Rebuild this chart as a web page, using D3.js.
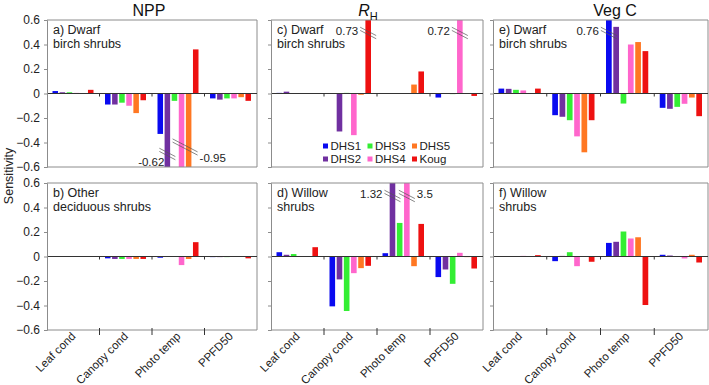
<!DOCTYPE html>
<html>
<head>
<meta charset="utf-8">
<script src="https://cdn.jsdelivr.net/npm/d3@7"></script>
<style>
  body { margin: 0; background: #fff; }
  svg { font-family: Arial, "Liberation Sans", sans-serif; }
</style>
</head>
<body>
<svg id="chart" width="709" height="385"></svg>
<script>
'use strict';

// categories and series
const categories = ['Leaf cond', 'Canopy cond', 'Photo temp', 'PPFD50'];
const seriesNames = ['DHS1', 'DHS2', 'DHS3', 'DHS4', 'DHS5', 'Koug'];
const seriesColors = ['#0a0af0', '#7030a0', '#33ee33', '#ff66cc', '#ff7722', '#ee1111'];
const yTicks = [-0.6, -0.4, -0.2, 0, 0.2, 0.4, 0.6];

// values per panel: one row per category, one value per series (DHS1..DHS5, Koug)
const nppDwarfBirch = [
  [0.02, 0.01, 0.01, 0.005, 0.0, 0.03],
  [-0.09, -0.09, -0.075, -0.1, -0.16, -0.055],
  [-0.33, -0.62, -0.06, -0.95, -0.95, 0.36],
  [-0.04, -0.05, -0.04, -0.04, -0.03, -0.06]
];
const rhDwarfBirch = [
  [0.005, 0.015, 0.0, 0.0, 0.003, 0.0],
  [0.0, -0.31, 0.005, -0.34, -0.01, 0.73],
  [0.0, 0.0, 0.0, 0.0, 0.073, 0.18],
  [-0.033, 0.0, -0.005, 0.72, 0.0, -0.02]
];
const vegcDwarfBirch = [
  [0.04, 0.038, 0.03, 0.025, 0.0, 0.04],
  [-0.177, -0.19, -0.218, -0.35, -0.48, -0.218],
  [0.76, 0.544, -0.082, 0.4, 0.42, 0.346],
  [-0.117, -0.125, -0.109, -0.084, -0.033, -0.185]
];
const nppOtherDeciduous = [
  [0.0, 0.0, 0.0, 0.0, 0.0, 0.0],
  [-0.015, -0.02, -0.02, -0.02, -0.02, -0.02],
  [-0.01, 0.0, 0.0, -0.07, -0.02, 0.117],
  [-0.005, -0.005, -0.005, 0.0, 0.0, -0.015]
];
const rhWillow = [
  [0.035, 0.014, 0.02, 0.0, 0.0, 0.076],
  [-0.407, -0.187, -0.445, -0.136, -0.095, -0.076],
  [0.027, 1.32, 0.274, 3.5, -0.079, 0.266],
  [-0.168, -0.106, -0.223, 0.03, -0.005, -0.098]
];
const vegcWillow = [
  [0.002, 0.0, 0.0, 0.005, 0.0, 0.011],
  [-0.038, 0.005, 0.035, -0.079, 0.0, -0.043],
  [0.111, 0.12, 0.204, 0.147, 0.157, -0.396],
  [0.014, 0.008, 0.0, -0.016, 0.014, -0.049]
];

const columnTitles = ['NPP', 'RH', 'Veg C'];
const panelLabels = [
  ['a) Dwarf', 'birch shrubs'], ['c) Dwarf', 'birch shrubs'], ['e) Dwarf', 'birch shrubs'],
  ['b) Other', 'deciduous shrubs'], ['d) Willow', 'shrubs'], ['f) Willow', 'shrubs']
];
const panelData = [nppDwarfBirch, rhDwarfBirch, vegcDwarfBirch, nppOtherDeciduous, rhWillow, vegcWillow];

// off-scale bars: panel index, category index, series indices, label, label side
const breaks = [
  { panel: 0, cat: 2, series: [1], label: '-0.62', side: 'left' },
  { panel: 0, cat: 2, series: [3, 4], label: '-0.95', side: 'right' },
  { panel: 1, cat: 1, series: [5], label: '0.73', side: 'left' },
  { panel: 1, cat: 3, series: [3], label: '0.72', side: 'left' },
  { panel: 2, cat: 2, series: [0], label: '0.76', side: 'left' },
  { panel: 4, cat: 2, series: [1], label: '1.32', side: 'left' },
  { panel: 4, cat: 2, series: [3], label: '3.5', side: 'right' }
];

// layout
const cols = [{ x0: 47, x1: 257 }, { x0: 271, x1: 483 }, { x0: 493, x1: 708 }];
const rows = [{ y0: 20, y1: 167 }, { y0: 183, y1: 330 }];
const frameColor = '#8c8c8c';
const fontSize = 11.5;

const svg = d3.select('#chart');

function drawPanel(idx) {
  const col = cols[idx % 3];
  const row = rows[Math.floor(idx / 3)];
  const data = panelData[idx];
  const g = svg.append('g');

  const x = d3.scaleBand().domain(categories).range([col.x0, col.x1]);
  const xs = d3.scaleBand().domain(seriesNames)
    .range([5.5, x.bandwidth() - 6]).paddingInner(0.22);
  const y = d3.scaleLinear().domain([-0.6, 0.6]).range([row.y1, row.y0]).clamp(true);

  // bars
  categories.forEach((c, ci) => {
    g.append('g')
      .selectAll('rect')
      .data(data[ci])
      .join('rect')
      .attr('x', (d, si) => x(c) + xs(seriesNames[si]))
      .attr('width', xs.bandwidth())
      .attr('y', d => y(Math.max(0, d)))
      .attr('height', d => Math.abs(y(d) - y(0)))
      .attr('fill', (d, si) => seriesColors[si]);
  });

  // frame (top, right, bottom)
  g.append('path')
    .attr('d', `M${col.x0},${row.y0}H${col.x1}V${row.y1}H${col.x0}`)
    .attr('fill', 'none')
    .attr('stroke', frameColor)
    .attr('stroke-width', 1);

  // zero line with category ticks
  g.append('line')
    .attr('x1', col.x0).attr('x2', col.x1)
    .attr('y1', y(0)).attr('y2', y(0))
    .attr('stroke', '#333').attr('stroke-width', 1);
  const bounds = categories.slice(1).map(c => x(c));
  g.selectAll('.ztick').data(bounds).join('line')
    .attr('x1', d => d).attr('x2', d => d)
    .attr('y1', y(0)).attr('y2', y(0) + 3)
    .attr('stroke', '#333');

  // y axis
  const yAxis = d3.axisLeft(y).tickValues(yTicks).tickSize(3).tickPadding(4)
    .tickFormat(d => (idx % 3 === 0 ? (d === 0 ? '0' : d3.format('.1f')(d)) : ''));
  const ya = g.append('g').attr('transform', `translate(${col.x0},0)`).call(yAxis);
  ya.select('.domain').attr('stroke', frameColor);
  ya.selectAll('.tick line').attr('stroke', frameColor);
  ya.selectAll('.tick text').attr('font-size', fontSize + 0.5).attr('fill', '#222')
    .attr('font-family', 'Arial, "Liberation Sans", sans-serif');

  // x axis on bottom row
  if (row === rows[1]) {
    g.selectAll('.xtick').data(bounds).join('line')
      .attr('x1', d => d).attr('x2', d => d)
      .attr('y1', row.y1 - 2).attr('y2', row.y1 + 5)
      .attr('stroke', '#333');
    g.selectAll('.xlab').data(categories).join('text')
      .attr('transform', d => `translate(${x(d) + x.bandwidth() / 2 + 3},${row.y1 + 7}) rotate(-45)`)
      .attr('text-anchor', 'end')
      .attr('font-size', fontSize)
      .attr('fill', '#222')
      .text(d => d);
  }

  // panel label
  const lab = g.append('text')
    .attr('x', col.x0 + 7).attr('y', row.y0 + 14)
    .attr('font-size', fontSize + 1).attr('fill', '#222');
  lab.append('tspan').attr('x', col.x0 + 6).text(panelLabels[idx][0]);
  lab.append('tspan').attr('x', col.x0 + 6).attr('dy', 13.5).text(panelLabels[idx][1]);

  // breaks for off-scale bars
  breaks.filter(b => b.panel === idx).forEach(b => {
    const cat = categories[b.cat];
    const centers = b.series.map(s => x(cat) + xs(seriesNames[s]) + xs.bandwidth() / 2);
    const cx = d3.mean(centers);
    const val = data[b.cat][b.series[0]];
    const half = b.series.length > 1 ? 12.5 : 8;
    const slope = 0.52;
    let cy;
    if (val > 0) cy = row.y0 + 13;
    else cy = row.y1 - (b.series.length > 1 ? 20 : 13);
    [-1.6, 1.6].forEach(o => {
      g.append('line')
        .attr('x1', cx - half).attr('y1', cy - half * slope + o)
        .attr('x2', cx + half).attr('y2', cy + half * slope + o)
        .attr('stroke', '#555').attr('stroke-width', 0.7);
    });
    const t = g.append('text').attr('font-size', fontSize).attr('fill', '#222').text(b.label);
    if (val > 0) {
      if (b.side === 'left') t.attr('x', cx - half - 2).attr('y', cy + 2).attr('text-anchor', 'end');
      else t.attr('x', cx + half + 2).attr('y', cy + 2).attr('text-anchor', 'start');
    } else {
      if (b.side === 'left') t.attr('x', cx - 3).attr('y', row.y1 - 1).attr('text-anchor', 'end');
      else t.attr('x', cx + half + 2).attr('y', cy + half * slope + 8).attr('text-anchor', 'start');
    }
  });
}

d3.range(6).forEach(drawPanel);

// column titles
const titleX = [149, 368, 615];
columnTitles.forEach((t, i) => {
  const txt = svg.append('text')
    .attr('x', titleX[i]).attr('y', 16)
    .attr('text-anchor', 'middle')
    .attr('font-size', 16).attr('fill', '#111');
  if (t === 'RH') {
    txt.append('tspan').attr('font-style', 'italic').text('R');
    txt.append('tspan').attr('font-size', 11).attr('dy', 4).text('H');
  } else {
    txt.text(t);
  }
});

// y title
svg.append('text')
  .attr('transform', 'translate(13,176) rotate(-90)')
  .attr('text-anchor', 'middle')
  .attr('font-size', 12.5).attr('fill', '#222')
  .text('Sensitivity');

// legend inside panel c
const legend = svg.append('g').attr('transform', 'translate(323,146)');
const legendOrder = [0, 2, 4, 1, 3, 5];
legendOrder.forEach((s, k) => {
  const lx = (k % 3) * 44.5;
  const ly = Math.floor(k / 3) * 13;
  legend.append('rect')
    .attr('x', lx).attr('y', ly - 2.5).attr('width', 5).attr('height', 5)
    .attr('fill', seriesColors[s]);
  legend.append('text')
    .attr('x', lx + 7.5).attr('y', ly + 4)
    .attr('font-size', fontSize).attr('fill', '#222')
    .text(seriesNames[s]);
});
</script>
</body>
</html>
